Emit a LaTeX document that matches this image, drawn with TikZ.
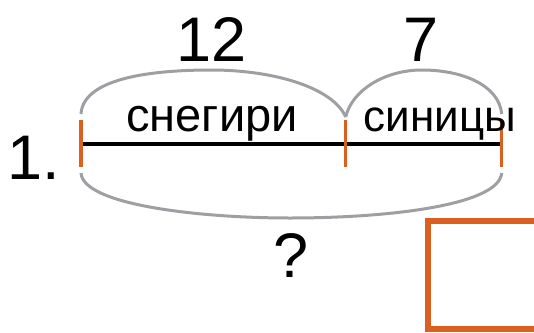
\documentclass[tikz,border=0pt]{standalone}
\usepackage{fontspec}
\setmainfont{Liberation Sans}
\usetikzlibrary{calc}
\definecolor{segorange}{HTML}{D9601F}
\definecolor{arcgray}{HTML}{9D9FA2}

\begin{document}
\begin{tikzpicture}[x=1pt, y=-1pt,
    bignum/.style={font=\fontsize{63}{63}\selectfont, inner sep=0pt, anchor=base},
    word/.style={font=\fontsize{47}{47}\selectfont, inner sep=0pt, anchor=base},
    arcline/.style={arcgray, line width=3pt},
    tickmark/.style={segorange, line width=3.5pt}]
  \useasboundingbox (0,0) rectangle (534,332);
  \coordinate (A) at (81, 144);    % left end
  \coordinate (B) at (345.7, 144); % split point
  \coordinate (C) at (501.7, 144); % right end
  \coordinate (A1) at (81, 114);
  \coordinate (B1) at (345.7, 117);
  \coordinate (C1) at (501.7, 114);
  \coordinate (A2) at (81, 173);
  \coordinate (C2) at (501.7, 173);

  \draw[line width=3.3pt] (A) -- (C);
  \draw[tickmark] ($(A)+(0,-24)$) -- ($(A)+(0,23)$);
  \draw[tickmark] ($(B)+(0,-24)$) -- ($(B)+(0,23)$);
  \draw[tickmark] ($(C)+(0,-24)$) -- ($(C)+(0,23)$);

  \draw[arcline] (A1) .. controls (83,80) and (145,70) .. (211,70)
                      .. controls (275,70) and (333,88) .. (B1);
  \draw[arcline] (B1) .. controls (352,90) and (385,70) .. (422,70)
                      .. controls (462,70) and (499,85) .. (C1);
  \draw[arcline] (A2) .. controls (83,205) and (200,218) .. (290,218)
                      .. controls (390,218) and (499,205) .. (C2);

  \node[bignum] (twelve) at (212, 61) {12};
  \node[bignum] (seven) at (421, 61) {7};
  \node[word] (bullfinch) at (212, 131) {снегири};
  \node[word, font=\fontsize{44}{44}\selectfont] (tits) at (440, 131) {синицы};
  \node[bignum, anchor=base west] (num) at (7, 179) {1.};
  \node[bignum] (question) at (291, 277) {?};

  \draw[segorange, line width=5.5pt] (428, 221) rectangle (545, 329);
\end{tikzpicture}
\end{document}
